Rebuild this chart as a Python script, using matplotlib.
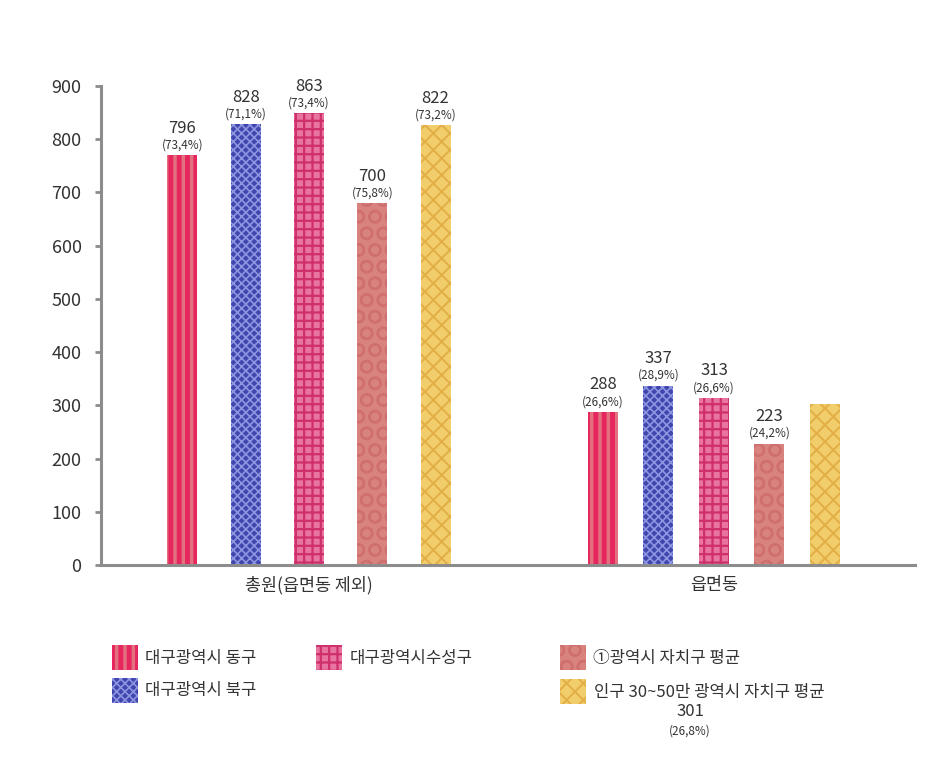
import matplotlib.pyplot as plt
from matplotlib.patches import Rectangle

plt.rcParams["font.family"] = ["Noto Sans CJK KR", "DejaVu Sans"]
plt.rcParams["hatch.linewidth"] = 1.6

categories = ["총원(읍면동 제외)", "읍면동"]
series = ["대구광역시 동구", "대구광역시 북구", "대구광역시수성구",
          "①광역시 자치구 평균", "인구 30~50만 광역시 자치구 평균"]
# bar heights as drawn in the picture
heights = [[770, 828, 849, 680, 826],
           [288, 337, 314, 228, 303]]
# labels printed above the bars
value_labels = [["796", "828", "863", "700", "822"],
                ["288", "337", "313", "223", None]]
pct_labels = [["(73,4%)", "(71,1%)", "(73,4%)", "(75,8%)", "(73,2%)"],
              ["(26,6%)", "(28,9%)", "(26,6%)", "(24,2%)", None]]
yticks = [0, 100, 200, 300, 400, 500, 600, 700, 800, 900]

faces = ["#E2707F", "#3F46AE", "#E874A0", "#D9837E", "#F1CD6C"]
hatch_cols = ["#E6265C", "#8E95E0", "#CF2F6C", "#CF6F70", "#E2AE45"]
hatches = ["||", "xxxx", "++", "O", "xx"]
hatch_lw = [3.5, 1.2, 1.6, 1.6, 1.4]

text_col = "#333333"
axis_col = "#8c8c8c"


def set_hlw(artist, lw):
    if hasattr(artist, "set_hatch_linewidth"):
        artist.set_hatch_linewidth(lw)


fig = plt.figure(figsize=(9.4, 7.73), dpi=100)
ax = fig.add_axes([101 / 940, 1 - 565 / 773, 814 / 940, (565 - 86) / 773])

group_centers = [208, 613]
spacing = [63.3, 55.5]
bar_w = 30

for g in range(len(categories)):
    for i in range(len(series)):
        x = group_centers[g] + (i - 2) * spacing[g]
        h = heights[g][i]
        bars = ax.bar(x, h, width=bar_w, color=faces[i], edgecolor=hatch_cols[i],
                      hatch=hatches[i], linewidth=0)
        for b in bars:
            set_hlw(b, hatch_lw[i])
        if value_labels[g][i]:
            ax.annotate(value_labels[g][i], (x, h), xytext=(0, 19.5),
                        textcoords="offset points", ha="center", va="center",
                        fontsize=12, color=text_col)
            ax.annotate(pct_labels[g][i], (x, h), xytext=(0, 7.3),
                        textcoords="offset points", ha="center", va="center",
                        fontsize=8.5, color=text_col)

ax.set_xlim(0, 814)
ax.set_ylim(0, 900)
ax.set_yticks(yticks)
ax.set_yticklabels([str(v) for v in yticks], fontsize=13, color=text_col)
ax.set_xticks(group_centers)
ax.set_xticklabels(categories, fontsize=12.5, color=text_col)
ax.tick_params(axis="x", length=0, pad=8)
ax.tick_params(axis="y", length=4, width=2, color=axis_col, pad=10)
for s in ["top", "right"]:
    ax.spines[s].set_visible(False)
for s in ["left", "bottom"]:
    ax.spines[s].set_color(axis_col)
    ax.spines[s].set_linewidth(2.2)

# legend drawn in figure pixels
legend_pos = [(112, 645), (112, 678), (316, 645), (560, 645), (560, 679)]
text_dx = [33, 33, 34, 33, 34]
for i, (px, py) in enumerate(legend_pos):
    r = Rectangle((px / 940, 1 - (py + 25) / 773), 26 / 940, 25 / 773,
                  transform=fig.transFigure, facecolor=faces[i],
                  edgecolor=hatch_cols[i], hatch=hatches[i], linewidth=0)
    set_hlw(r, hatch_lw[i])
    fig.patches.append(r)
    fig.text((px + text_dx[i]) / 940, 1 - (py + 13) / 773, series[i],
             fontsize=12, color=text_col, va="center", ha="left")

fig.text(690 / 940, 1 - 712 / 773, "301", fontsize=12, color=text_col,
         ha="center", va="center")
fig.text(690 / 940, 1 - 731 / 773, "(26,8%)", fontsize=8.5, color=text_col,
         ha="center", va="center")

plt.savefig("out.png", dpi=100)
